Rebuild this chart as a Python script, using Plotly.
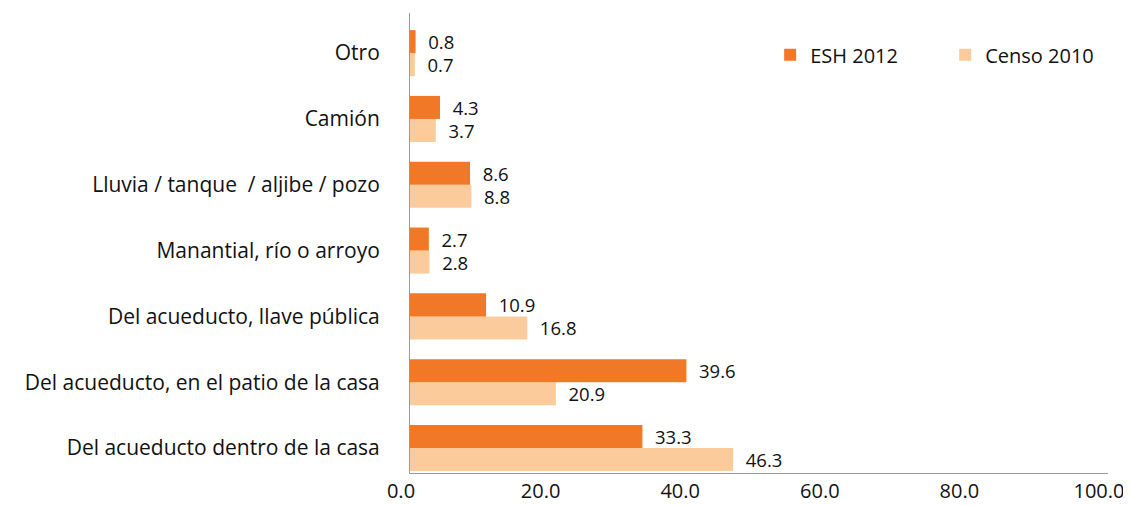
import plotly.graph_objects as go

categories = [
    "Del acueducto dentro de la casa",
    "Del acueducto, en el patio de la casa",
    "Del acueducto, llave pública",
    "Manantial, río o arroyo",
    "Lluvia / tanque  / aljibe / pozo",
    "Camión",
    "Otro",
]
esh_2012 = [33.3, 39.6, 10.9, 2.7, 8.6, 4.3, 0.8]
censo_2010 = [46.3, 20.9, 16.8, 2.8, 8.8, 3.7, 0.7]
x_ticks = [0, 20, 40, 60, 80, 100]

FONT = "Open Sans"
TXT = "#111111"
fig = go.Figure()
fig.add_trace(go.Bar(
    y=categories, x=censo_2010, orientation="h", name="Censo 2010",
    marker=dict(color="#FCCB9C", line=dict(width=0)),
    texttemplate="\u00a0\u00a0%{x:.1f}", textposition="outside",
    constraintext="none",
    textfont=dict(family=FONT, size=18.5, color=TXT), cliponaxis=False,
))
fig.add_trace(go.Bar(
    y=categories, x=esh_2012, orientation="h", name="ESH 2012",
    marker=dict(color="#F07826", line=dict(width=0)),
    texttemplate="\u00a0\u00a0%{x:.1f}", textposition="outside",
    constraintext="none",
    textfont=dict(family=FONT, size=18.5, color=TXT), cliponaxis=False,
))
fig.update_layout(
    width=1123, height=497,
    margin=dict(l=402, r=23, t=5, b=32, autoexpand=False),
    paper_bgcolor="white", plot_bgcolor="white",
    barmode="group", bargap=0.3, bargroupgap=0,
    font=dict(family=FONT, size=20, color=TXT),
    showlegend=True,
    legend=dict(orientation="h", traceorder="reversed", x=0.516, y=0.909,
                xanchor="left", yanchor="middle", entrywidth=130,
                font=dict(family=FONT, size=20, color=TXT),
                itemwidth=30, bgcolor="rgba(0,0,0,0)"),
    xaxis=dict(range=[0, 100], tickvals=x_ticks, tickformat=".1f",
               showgrid=False, zeroline=False, showline=True,
               linecolor="#999999", linewidth=1, ticks="",
               ticklabelshift=-9, ticklabelstandoff=0,
               tickfont=dict(family=FONT, size=20, color=TXT)),
    yaxis=dict(categoryorder="array", categoryarray=categories,
               range=[-0.38, 6.61], showgrid=False, zeroline=False,
               showline=True, linecolor="#999999", linewidth=1, ticks="",
               ticklabelstandoff=25,
               tickfont=dict(family=FONT, size=21, color=TXT)),
)
fig.write_html("out.html")
